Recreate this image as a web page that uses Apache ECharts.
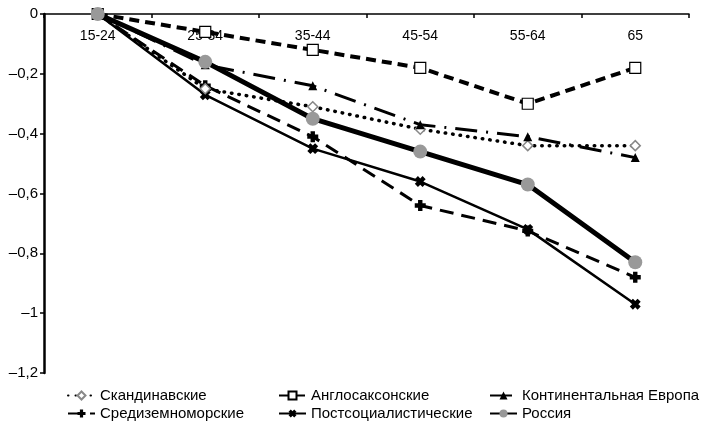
<!DOCTYPE html>
<html><head><meta charset="utf-8">
<script src="https://cdn.jsdelivr.net/npm/echarts@6/dist/echarts.min.js"></script>
<style>html,body{margin:0;padding:0;background:#fff}#c{width:714px;height:422px}</style>
</head><body><div id="c"></div>
<script>
const categories = ['15-24', '25-34', '35-44', '45-54', '55-64', '65'];
const scandinavian = [0, -0.25, -0.31, -0.385, -0.44, -0.44];
const anglo = [0, -0.06, -0.12, -0.18, -0.30, -0.18];
const continental = [0, -0.17, -0.24, -0.37, -0.41, -0.48];
const mediterranean = [0, -0.24, -0.41, -0.64, -0.725, -0.88];
const postsocialist = [0, -0.27, -0.45, -0.56, -0.72, -0.97];
const russia = [0, -0.16, -0.35, -0.46, -0.57, -0.83];
const names = ['Скандинавские', 'Англосаксонские', 'Континентальная Европа', 'Средиземноморские', 'Постсоциалистические', 'Россия'];

const FONT = 'Liberation Sans, Arial, sans-serif';
const plus = 'path://M3,0H7V3H10V7H7V10H3V7H0V3H3Z';

const chart = echarts.init(document.getElementById('c'));
const legendPos = [[67, 388], [278, 388], [489, 388], [67, 406], [278, 406], [489, 406]];
const legends = names.map((n, i) => ({
  orient: 'horizontal', left: legendPos[i][0], top: legendPos[i][1],
  itemWidth: 27, itemHeight: 10, padding: 0,
  textStyle: {fontFamily: FONT, fontSize: 15, color: '#000'},
  data: [n]
}));
chart.setOption({
  animation: false,
  grid: {left: 44, right: 25, top: 14, bottom: 49},
  legend: legends,
  xAxis: {
    type: 'category', data: categories, boundaryGap: true, position: 'top',
    axisLine: {onZero: false, lineStyle: {color: '#000', width: 1.5}},
    axisTick: {show: true, inside: true, length: 4, lineStyle: {color: '#000', width: 1.5}},
    axisLabel: {inside: true, fontFamily: FONT, fontSize: 14, color: '#000', margin: 15}
  },
  yAxis: {
    type: 'value', min: -1.2, max: 0, interval: 0.2,
    splitLine: {show: false},
    axisLine: {show: true, lineStyle: {color: '#000', width: 2.5}},
    axisTick: {show: true, length: 4, lineStyle: {color: '#000', width: 1.5}},
    axisLabel: {fontFamily: FONT, fontSize: 15, color: '#000', margin: 6,
      formatter: v => { const r = Math.round(v * 10) / 10; return r === 0 ? '0' : String(r).replace('-', '–').replace('.', ','); }}
  },
  series: [
    {name: names[3], type: 'line', data: mediterranean, symbol: plus, symbolSize: 11,
      itemStyle: {color: '#000'}, lineStyle: {color: '#000', width: 3, type: [14, 8]}, z: 2},
    {name: names[4], type: 'line', data: postsocialist, symbol: plus, symbolRotate: 45, symbolSize: 11,
      itemStyle: {color: '#000'}, lineStyle: {color: '#000', width: 2.5, type: 'solid'}, z: 2},
    {name: names[0], type: 'line', data: scandinavian, symbol: 'diamond', symbolSize: 10,
      itemStyle: {color: '#fff', borderColor: '#888', borderWidth: 1.5},
      lineStyle: {color: '#000', width: 3.5, type: [0.5, 7], cap: 'round'}, z: 3},
    {name: names[2], type: 'line', data: continental, symbol: 'triangle', symbolSize: 9,
      itemStyle: {color: '#000'}, lineStyle: {color: '#000', width: 3, type: [22, 9, 2, 9]}, z: 3},
    {name: names[1], type: 'line', data: anglo, symbol: 'rect', symbolSize: 11,
      itemStyle: {color: '#fff', borderColor: '#000', borderWidth: 1.2},
      lineStyle: {color: '#000', width: 4, type: [10, 6]}, z: 4},
    {name: names[5], type: 'line', data: russia, symbol: 'circle', symbolSize: 14,
      itemStyle: {color: '#999'}, lineStyle: {color: '#000', width: 5, type: 'solid'}, z: 5}
  ]
});
</script></body></html>
